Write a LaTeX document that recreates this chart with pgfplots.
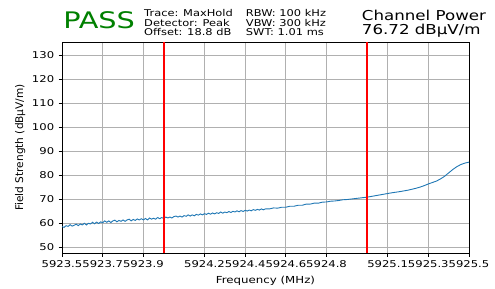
\documentclass[border=0pt]{standalone}
\usepackage{pgfplots}
\pgfplotsset{compat=1.18}
\usepackage{fontspec}
\setmainfont{DejaVu Sans}
\definecolor{mplblue}{HTML}{1F77B4}
\definecolor{passgreen}{HTML}{008000}
\definecolor{gridgray}{HTML}{B0B0B0}
\begin{document}
\begin{tikzpicture}
\useasboundingbox (0,0) rectangle (495bp,289bp);
\begin{axis}[
  at={(62bp,36bp)}, anchor=south west,
  scale only axis, width=407bp, height=211bp,
  xmin=5923.5, xmax=5925.5, ymin=47.6, ymax=135.6,
  xtick={5923.5,5923.7,5923.9,5924.2,5924.4,5924.6,5924.8,5925.1,5925.3,5925.5},
  xticklabels={5923.5,5923.7,5923.9,5924.2,5924.4,5924.6,5924.8,5925.1,5925.3,5925.5},
  ytick={50,60,70,80,90,100,110,120,130},
  grid=major,
  grid style={color=gridgray, line width=0.8bp},
  axis line style={line width=0.8bp},
  tick style={black, line width=0.8bp},
  tick align=outside, tick pos=left,
  major tick length=3.5bp,
  /pgf/number format/assume math mode=true,
  ticklabel style={font=\fontsize{9.4}{10}\selectfont, xscale=1.24},
  xticklabel style={yshift=-1bp},
  xlabel={Frequency (MHz)},
  ylabel={Field Strength (dBμV/m)},
  xlabel style={font=\fontsize{9.7}{11}\selectfont, xscale=1.22, yshift=-1bp},
  ylabel style={font=\fontsize{10.6}{11}\selectfont, yshift=-1bp},
  clip=true,
]
\addplot[mplblue, line width=0.9bp] coordinates {
(5923.50,58.6) (5923.51,58.3) (5923.52,59.0) (5923.53,58.7) (5923.54,59.4)
(5923.55,58.8) (5923.56,59.2) (5923.57,59.6) (5923.58,59.0) (5923.59,59.7)
(5923.60,59.3) (5923.61,60.0) (5923.62,59.3) (5923.63,60.0) (5923.64,59.7)
(5923.65,60.4) (5923.66,59.8) (5923.67,60.5) (5923.68,59.9) (5923.69,60.6)
(5923.70,60.2) (5923.71,61.0) (5923.72,60.4) (5923.73,61.0) (5923.74,60.3)
(5923.75,61.0) (5923.76,61.3) (5923.77,60.6) (5923.78,61.2) (5923.79,60.8)
(5923.80,61.4) (5923.81,60.8) (5923.82,61.4) (5923.83,61.7) (5923.84,61.0)
(5923.85,61.6) (5923.86,61.2) (5923.87,61.8) (5923.88,61.4) (5923.89,61.9)
(5923.90,61.4) (5923.91,62.0) (5923.92,61.4) (5923.93,62.2) (5923.94,61.7)
(5923.95,62.1) (5923.96,61.7) (5923.97,62.4) (5923.98,61.9) (5923.99,62.4)
(5924.00,62.0) (5924.01,62.6) (5924.02,62.2) (5924.03,62.6) (5924.04,62.2)
(5924.05,62.8) (5924.06,63.0) (5924.07,62.6) (5924.08,63.0) (5924.09,62.6)
(5924.10,63.2) (5924.11,62.9) (5924.12,63.5) (5924.13,63.0) (5924.14,63.5)
(5924.15,63.1) (5924.16,63.7) (5924.17,63.4) (5924.18,63.9) (5924.19,63.5)
(5924.20,64.0) (5924.21,63.7) (5924.22,64.2) (5924.23,63.8) (5924.24,64.3)
(5924.25,63.9) (5924.26,64.4) (5924.27,64.1) (5924.28,64.7) (5924.29,64.2)
(5924.30,64.7) (5924.31,64.4) (5924.32,64.9) (5924.33,64.5) (5924.34,65.0)
(5924.35,64.7) (5924.36,65.2) (5924.37,64.8) (5924.38,65.3) (5924.39,64.9)
(5924.40,65.4) (5924.41,65.1) (5924.42,65.5) (5924.43,65.2) (5924.44,65.7)
(5924.45,65.4) (5924.46,65.8) (5924.47,65.5) (5924.48,66.0) (5924.49,65.6)
(5924.50,66.0) (5924.52,66.0) (5924.54,66.4) (5924.56,66.3) (5924.58,66.7)
(5924.60,66.7) (5924.62,67.1) (5924.64,67.1) (5924.66,67.5) (5924.68,67.5)
(5924.70,68.0) (5924.72,68.0) (5924.74,68.4) (5924.76,68.4) (5924.78,68.8)
(5924.80,68.9) (5924.82,69.2) (5924.84,69.3) (5924.86,69.5) (5924.88,69.8)
(5924.90,69.9) (5924.92,70.1) (5924.94,70.3) (5924.96,70.5) (5924.98,70.7)
(5925.00,70.9) (5925.02,71.2) (5925.04,71.5) (5925.06,71.8) (5925.08,72.1)
(5925.10,72.4) (5925.12,72.7) (5925.14,72.95) (5925.16,73.2) (5925.18,73.5)
(5925.20,73.8) (5925.22,74.2) (5925.24,74.6) (5925.26,75.1) (5925.28,75.7)
(5925.30,76.4) (5925.32,77.0) (5925.34,77.6) (5925.36,78.5) (5925.38,79.6)
(5925.40,81.0) (5925.42,82.4) (5925.44,83.6) (5925.46,84.5) (5925.48,85.1)
(5925.50,85.5)
};
\addplot[red, line width=1.6bp] coordinates {(5924.0,40) (5924.0,140)};
\addplot[red, line width=1.6bp] coordinates {(5925.0,40) (5925.0,140)};
\end{axis}
% header texts
\node[anchor=base west, inner sep=0, xscale=1.26, text=passgreen, font=\fontsize{22.9}{24}\selectfont] at (63bp,260.7bp) {PASS};
\node[anchor=base west, inner sep=0, xscale=1.22, font=\fontsize{9.4}{10}\selectfont] at (144bp,272.5bp) {Trace: MaxHold};
\node[anchor=base west, inner sep=0, xscale=1.22, font=\fontsize{9.4}{10}\selectfont] at (144bp,262.8bp) {Detector: Peak};
\node[anchor=base west, inner sep=0, xscale=1.22, font=\fontsize{9.4}{10}\selectfont] at (144bp,253.1bp) {Offset: 18.8 dB};
\node[anchor=base west, inner sep=0, xscale=1.22, font=\fontsize{9.4}{10}\selectfont] at (245.7bp,272.5bp) {RBW: 100 kHz};
\node[anchor=base west, inner sep=0, xscale=1.22, font=\fontsize{9.4}{10}\selectfont] at (245.7bp,262.8bp) {VBW: 300 kHz};
\node[anchor=base west, inner sep=0, xscale=1.22, font=\fontsize{9.4}{10}\selectfont] at (245.7bp,253.1bp) {SWT: 1.01 ms};
\node[anchor=base west, inner sep=0, xscale=1.22, font=\fontsize{13.7}{14}\selectfont] at (361.7bp,268bp) {Channel Power};
\node[anchor=base west, inner sep=0, xscale=1.22, font=\fontsize{13.7}{14}\selectfont] at (361.7bp,254bp) {76.72 dBμV/m};
\end{tikzpicture}
\end{document}
